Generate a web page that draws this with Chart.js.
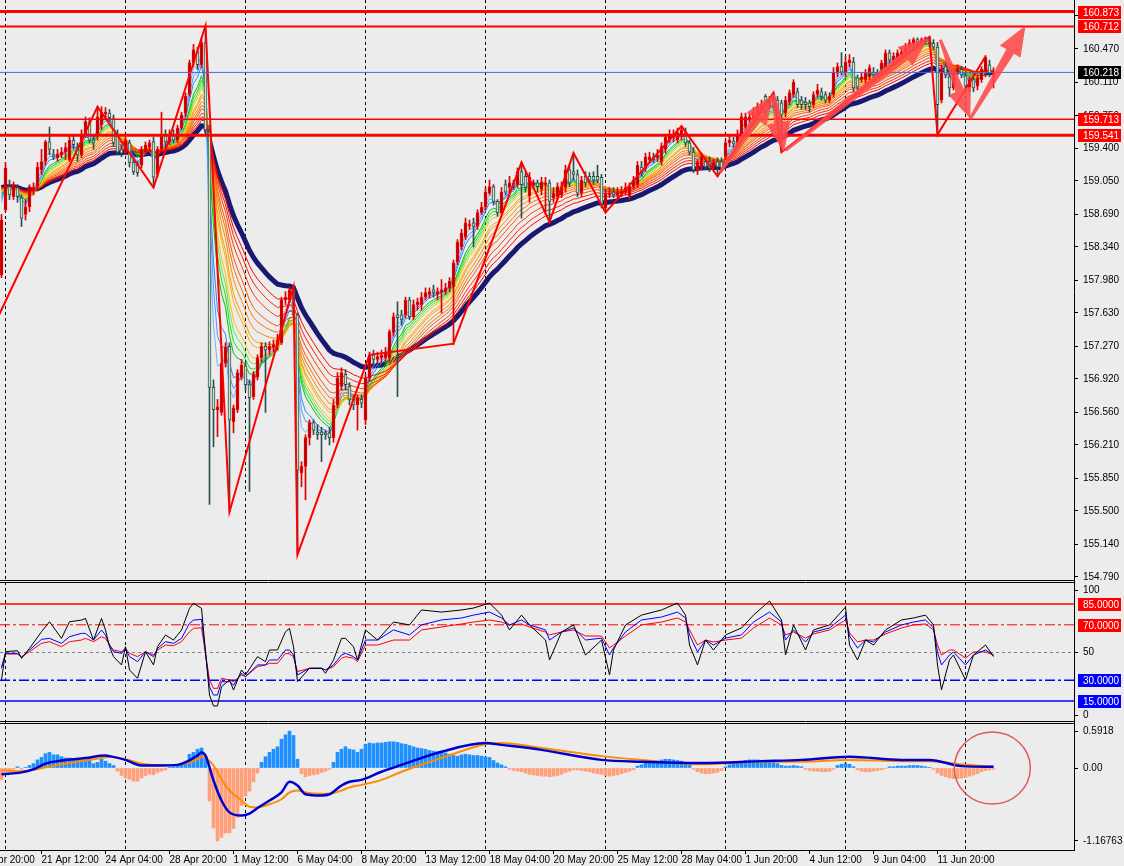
<!DOCTYPE html>
<html>
<head>
<meta charset="utf-8">
<title>H4 chart</title>
<script src="https://cdn.jsdelivr.net/npm/chart.js@4.4.1/dist/chart.umd.min.js"></script>
<style>
  html, body { margin: 0; padding: 0; background: #ececec; overflow: hidden; }
  canvas { display: block; }
</style>
</head>
<body>
<canvas id="chart" width="1124" height="866"></canvas>
<script>
// H4 candles, bar index = position in the array
const openP = [
  158.04,158.74,158.99,158.88,158.98,158.87,158.69,158.77,158.95,158.99,
  159.17,159.26,159.47,159.33,159.30,159.33,159.36,159.28,159.49,159.42,
  159.33,159.55,159.69,159.49,159.55,159.65,159.77,159.78,159.73,159.55,
  159.39,159.36,159.46,159.25,159.22,159.22,159.36,159.41,159.47,159.12,
  159.39,159.55,159.47,159.55,159.49,159.62,159.78,159.98,160.32,160.44,
  160.30,160.54,159.58,156.83,156.59,156.56,157.09,157.27,156.46,156.59,
  156.94,157.06,156.86,156.73,156.94,157.15,157.27,157.23,157.26,157.29,
  157.31,157.77,157.77,157.88,157.61,155.91,155.98,156.29,156.45,156.35,
  156.35,156.34,156.34,156.29,156.64,156.84,156.97,156.84,156.70,156.64,
  156.70,156.48,156.93,157.18,157.13,157.15,157.15,157.15,157.42,157.61,
  157.61,157.61,157.77,157.59,157.72,157.72,157.80,157.83,157.88,157.83,
  157.85,157.86,157.90,157.91,158.18,158.34,158.45,158.57,158.60,158.56,
  158.71,158.77,158.92,158.99,158.83,158.71,159.01,158.98,159.03,159.01,
  159.15,159.10,158.89,159.01,159.03,158.96,159.01,159.03,158.87,158.88,
  158.90,158.98,159.17,159.15,159.12,158.92,159.10,159.10,159.10,159.10,
  159.09,158.76,158.90,158.93,158.90,158.92,158.93,158.89,158.99,159.01,
  159.20,159.19,159.28,159.31,159.30,159.26,159.39,159.49,159.52,159.49,
  159.53,159.57,159.46,159.36,159.17,159.20,159.26,159.26,159.20,159.26,
  159.26,159.31,159.46,159.48,159.46,159.55,159.63,159.71,159.73,159.74,
  159.82,159.96,159.85,159.98,159.92,159.89,159.78,159.90,159.98,160.01,
  159.92,159.90,159.89,159.87,159.98,160.01,159.98,159.92,159.98,160.21,
  160.28,160.21,160.32,160.33,160.16,160.14,160.14,160.17,160.22,160.21,
  160.25,160.27,160.43,160.35,160.38,160.39,160.44,160.49,160.52,160.57,
  160.54,160.55,160.59,160.53,160.49,159.92,160.28,160.17,160.05,160.22,
  160.25,160.18,160.05,160.14,160.07,160.14,160.22,160.30,160.19
];
const highP = [
  158.69,159.25,159.06,159.04,159.01,158.90,158.85,159.01,159.03,159.25,
  159.39,159.49,159.63,159.39,159.39,159.41,159.46,159.53,159.55,159.46,
  159.60,159.74,159.73,159.55,159.85,159.85,159.84,159.82,159.76,159.60,
  159.44,159.55,159.49,159.28,159.26,159.42,159.47,159.49,159.52,159.42,
  159.79,159.60,159.60,159.60,159.65,159.79,160.00,160.35,160.52,160.49,
  160.59,160.72,159.65,156.91,156.70,157.27,157.31,157.31,156.64,157.02,
  157.13,157.10,156.91,157.00,157.18,157.31,157.31,157.32,157.34,157.40,
  157.80,157.86,157.91,157.93,157.63,156.03,156.32,156.48,156.48,156.43,
  156.40,156.37,156.40,156.70,156.99,157.04,157.02,156.88,156.75,156.75,
  156.75,156.97,157.21,157.23,157.21,157.23,157.26,157.45,157.63,157.75,
  157.66,157.80,157.80,157.77,157.79,157.85,157.90,157.90,157.93,157.90,
  157.99,157.95,158.01,158.20,158.42,158.53,158.65,158.63,158.65,158.74,
  158.82,158.98,159.06,159.01,158.85,158.98,159.06,159.10,159.06,159.19,
  159.25,159.14,159.14,159.06,159.06,159.09,159.09,159.06,158.98,159.03,
  159.04,159.22,159.22,159.35,159.17,159.10,159.15,159.14,159.15,159.22,
  159.12,158.96,158.98,158.98,158.98,158.99,159.03,159.03,159.10,159.26,
  159.26,159.35,159.36,159.35,159.39,159.46,159.55,159.60,159.60,159.62,
  159.64,159.62,159.49,159.41,159.28,159.35,159.30,159.31,159.28,159.30,
  159.30,159.49,159.54,159.52,159.60,159.78,159.78,159.78,159.84,159.89,
  159.92,159.98,159.96,160.00,159.96,159.92,159.96,160.03,160.14,160.05,
  159.96,159.95,159.92,160.01,160.09,160.05,160.01,160.00,160.27,160.32,
  160.43,160.39,160.41,160.38,160.19,160.21,160.25,160.30,160.27,160.25,
  160.35,160.46,160.46,160.43,160.46,160.48,160.53,160.57,160.59,160.59,
  160.59,160.60,160.60,160.57,160.54,160.30,160.32,160.21,160.26,160.30,
  160.28,160.22,160.17,160.17,160.19,160.28,160.40,160.35,160.27
];
const lowP = [
  158.01,158.72,158.85,158.85,158.82,158.56,158.63,158.72,158.90,158.96,
  159.12,159.22,159.33,159.28,159.26,159.30,159.28,159.26,159.39,159.26,
  159.30,159.52,159.46,159.39,159.49,159.60,159.73,159.69,159.42,159.33,
  159.31,159.33,159.20,159.12,159.10,159.19,159.33,159.36,158.98,159.09,
  159.35,159.39,159.44,159.46,159.46,159.60,159.74,159.96,160.28,160.25,
  160.27,159.55,155.57,156.19,156.30,156.53,157.05,155.49,156.34,156.56,
  156.91,156.80,155.71,156.70,156.91,157.10,156.56,157.18,157.21,157.23,
  157.29,157.72,157.74,157.58,155.03,155.76,155.62,156.21,156.32,156.27,
  156.03,156.27,156.21,156.24,156.61,156.80,156.80,156.64,156.59,156.37,
  156.61,156.43,156.89,157.07,157.09,157.10,157.10,157.10,157.38,156.73,
  157.50,157.58,157.56,157.56,157.66,157.66,157.77,157.79,157.80,157.77,
  157.63,157.83,157.86,157.29,158.15,158.31,158.42,158.53,158.34,158.53,
  158.69,158.74,158.90,158.79,158.67,158.69,158.90,158.93,158.96,158.98,
  158.65,158.93,158.82,158.96,158.93,158.90,158.69,158.61,158.82,158.85,
  158.87,158.93,158.99,159.06,158.88,158.88,158.99,159.03,159.01,159.03,
  158.76,158.71,158.87,158.87,158.87,158.88,158.90,158.85,158.96,158.98,
  159.10,159.15,159.25,159.25,159.26,159.22,159.35,159.46,159.47,159.46,
  159.49,159.42,159.33,159.14,159.12,159.17,159.17,159.15,159.17,159.10,
  159.15,159.28,159.42,159.41,159.42,159.52,159.60,159.68,159.69,159.71,
  159.78,159.76,159.82,159.82,159.65,159.36,159.74,159.87,159.95,159.84,
  159.82,159.82,159.79,159.84,159.95,159.92,159.89,159.89,159.95,160.17,
  160.19,160.17,160.28,160.01,160.03,160.11,160.09,160.14,160.16,160.16,
  160.21,160.25,160.32,160.32,160.33,160.35,160.41,160.46,160.48,160.49,
  160.52,160.52,160.49,160.46,159.55,159.89,160.16,159.96,160.03,160.19,
  160.16,160.01,160.01,160.01,160.03,160.11,160.17,160.17,160.05
];
const closeP = [
  158.63,159.19,158.90,159.01,158.88,158.65,158.77,158.99,158.98,159.20,
  159.26,159.47,159.39,159.31,159.34,159.36,159.41,159.49,159.44,159.33,
  159.55,159.69,159.49,159.46,159.74,159.79,159.79,159.73,159.46,159.36,
  159.35,159.49,159.25,159.15,159.14,159.39,159.44,159.46,159.09,159.39,
  159.55,159.47,159.55,159.49,159.62,159.76,159.96,160.32,160.46,160.30,
  160.54,159.60,156.83,156.59,156.62,157.09,157.26,156.48,156.61,156.99,
  157.07,156.86,156.72,156.97,157.15,157.27,157.23,157.27,157.29,157.34,
  157.77,157.80,157.88,157.61,155.94,155.98,156.29,156.45,156.37,156.32,
  156.32,156.32,156.29,156.64,156.93,156.99,156.86,156.70,156.64,156.72,
  156.66,156.93,157.18,157.13,157.16,157.18,157.21,157.43,157.59,157.58,
  157.56,157.77,157.59,157.72,157.75,157.80,157.85,157.86,157.85,157.86,
  157.88,157.90,157.97,158.17,158.39,158.49,158.60,158.58,158.56,158.71,
  158.77,158.93,158.99,158.83,158.71,158.93,158.93,159.03,158.99,159.15,
  159.01,158.98,159.09,159.03,158.99,159.04,159.03,158.83,158.92,158.99,
  158.99,159.17,159.03,159.12,158.92,159.06,159.03,159.06,159.06,159.06,
  158.79,158.92,158.92,158.90,158.93,158.93,158.98,158.99,159.06,159.22,
  159.14,159.31,159.31,159.28,159.33,159.42,159.52,159.55,159.55,159.57,
  159.60,159.46,159.36,159.17,159.25,159.31,159.20,159.19,159.25,159.20,
  159.19,159.46,159.49,159.45,159.55,159.74,159.74,159.74,159.79,159.85,
  159.87,159.79,159.92,159.85,159.71,159.76,159.92,160.00,160.11,159.87,
  159.87,159.87,159.85,159.98,160.03,159.96,159.92,159.96,160.22,160.28,
  160.22,160.33,160.35,160.05,160.06,160.17,160.21,160.27,160.19,160.19,
  160.32,160.43,160.35,160.39,160.43,160.44,160.49,160.54,160.57,160.54,
  160.57,160.59,160.53,160.49,159.87,160.25,160.19,160.05,160.22,160.26,
  160.19,160.07,160.14,160.05,160.16,160.25,160.38,160.21,160.22
];

// time axis
const labelBars = [-6,10,26,42,58,74,90,106,122,138,154,170,186,202,218,234];
const labelText = ['18 Apr 20:00','21 Apr 12:00','24 Apr 04:00','28 Apr 20:00','1 May 12:00','6 May 04:00',
  '8 May 20:00','13 May 12:00','18 May 04:00','20 May 20:00','25 May 12:00','28 May 04:00',
  '1 Jun 20:00','4 Jun 12:00','9 Jun 04:00','11 Jun 20:00'];
const gridBars = [1,31,61,91,121,151,181,211,241];

// price axis and horizontal levels
const priceTicks = [160.830,160.470,160.110,159.750,159.400,159.050,158.690,158.340,157.980,157.630,
  157.270,156.920,156.560,156.210,155.850,155.500,155.140,154.790];
const levelPrices = [160.873,160.712,160.218,159.713,159.541];
const levelColors = ['#ff0000','#ff0000','#4169e1','#ff0000','#ff0000'];
const levelWidths = [3,2,1,1.5,3];
const levelBoxColors = ['#ff0000','#ff0000','#000000','#ff0000','#ff0000'];

// zigzag
const zzBars = [-5,24,38,51,57,73,74,92,113,130,137,143,151,170,179,193,195,232,234,246];
const zzPrices = [157.21,159.85,158.98,160.72,155.49,157.91,155.03,157.18,157.30,159.25,158.61,159.35,
  158.71,159.64,159.10,160.00,159.36,160.60,159.55,160.39];

// hand drawn arrows
const arrowFromBar = [179.6,193,196,234.7,242.2];
const arrowFromPrice = [159.14,159.98,159.38,160.57,159.72];
const arrowToBar = [193,195.6,231.8,242.2,256];
const arrowToPrice = [159.98,159.36,160.59,159.72,160.72];

// moving average ribbon
const emaStart = 159.00;
const ribbonPeriods = [3,4,5,7,8,9,10,12,13,15,17,19,22,25,28];
const ribbonColors = ['#74b4ff','#4f9cff','#2e86ff','#00c400','#19e019','#55ee55','#ffc400','#ffae00',
  '#ff9c00','#ff8800','#ff7000','#ff5500','#ff3c00','#ff2000','#ff0000'];
const navyPeriod = 34;

// oscillator panel
const rsiBars = [0,1,4,5,7,10,12,15,17,20,21,23,25,26,27,28,30,31,32,34,36,38,39,41,43,45,47,48,50,51,
  52,53,54,55,57,58,60,61,64,66,67,69,71,72,73,74,77,80,81,83,85,86,88,89,91,94,98,102,105,110,
  115,118,122,125,127,130,132,136,137,140,143,146,150,152,153,156,160,165,169,171,172,174,176,178,181,
  185,188,192,195,196,198,201,203,207,211,212,214,216,218,221,225,228,231,233,234,235,237,238,241,243,246,248];
const rsiBlack = [30.2,50.6,51.3,45.8,53.0,65.0,72.2,60.2,72.2,73.4,74.6,59.0,74.6,66.2,54.2,47.0,41.0,54.2,37.4,31.4,
  50.6,41.0,54.2,62.6,59.0,66.2,81.9,85.5,81.9,50.6,19.3,11.4,11.4,25.3,30.2,22.9,37.4,33.8,47.0,43.4,
  51.8,51.8,65.0,67.4,54.2,28.9,38.6,38.6,35.0,44.6,60.2,60.2,54.2,44.6,66.3,59.0,72.0,69.9,80.7,79.2,
  80.7,82.1,85.7,77.0,66.3,77.0,69.9,59.0,44.6,64.8,69.9,48.2,59.0,33.8,51.8,69.9,77.0,80.7,85.7,77.0,
  55.4,41.0,59.0,51.8,62.7,67.7,77.0,87.2,73.5,48.2,69.9,51.8,66.3,69.9,82.8,55.4,44.6,59.0,55.4,66.3,
  73.5,74.9,77.0,69.9,41.0,23.0,44.6,48.2,30.2,48.2,55.4,47.0];
const rsiBlue = [38.6,49.4,49.4,46.3,51.8,59.5,60.2,56.6,61.4,63.8,63.8,59.0,66.2,62.6,55.4,50.6,49.4,53.0,47.0,43.4,
  50.6,47.0,53.0,57.8,56.6,60.2,71.0,73.4,73.9,49.4,25.3,19.3,19.3,28.9,28.9,26.5,35.0,32.6,41.0,41.0,
  44.6,44.6,51.8,51.8,48.2,33.8,38.6,38.6,37.4,41.0,48.2,49.4,47.0,44.6,59.0,59.0,66.3,62.7,69.9,73.5,
  74.9,77.0,79.2,74.9,69.9,73.5,69.9,66.3,59.0,64.8,67.7,59.0,60.4,48.2,53.3,64.8,73.5,75.6,79.2,74.9,
  62.7,50.4,59.0,55.4,60.4,62.7,72.0,79.2,72.0,59.0,66.3,57.6,64.8,67.7,77.0,61.9,53.3,59.0,57.6,64.8,
  69.9,72.0,73.5,67.7,50.4,41.0,48.2,50.4,41.0,48.2,51.8,48.2];
const rsiRed = [39.8,48.9,48.9,47.0,50.6,56.6,57.8,54.2,57.8,59.0,60.2,57.8,61.4,60.2,55.4,51.8,50.6,53.0,49.4,47.0,
  50.6,48.2,51.8,55.4,54.9,57.8,65.0,67.4,67.9,49.4,30.2,24.1,24.1,31.4,30.2,28.9,33.8,32.6,39.8,41.0,
  42.2,42.2,49.4,48.9,47.0,36.2,38.6,38.6,37.4,39.8,45.8,47.0,45.8,43.4,55.4,55.4,59.0,59.0,66.3,68.4,
  70.6,72.0,73.5,72.0,69.9,70.6,68.4,64.8,62.7,64.8,66.3,61.9,61.9,53.3,55.4,61.9,69.9,72.0,74.9,72.0,
  66.3,55.4,59.0,57.6,59.0,60.4,67.7,74.9,69.9,62.7,64.8,60.4,63.4,66.3,73.5,64.1,57.6,59.0,59.0,63.4,
  67.7,69.9,70.6,66.3,55.4,48.2,51.8,51.8,46.0,50.4,50.4,48.2];
const rsiLevels = [85,70,50,30,15];
const rsiLevelColors = ['#ff0000','#ff0000','#808080','#0000ff','#0000ff'];
const rsiLevelDash = [[],[10,3,3,3],[3,3],[10,3,3,3],[]];
const rsiLevelWidths = [1.5,1,1,1.5,1.5];
const rsiBoxValues = [85,70,30,15];
const rsiBoxColors = ['#ff0000','#ff0000','#0000ff','#0000ff'];
const rsiTickVals = [95,50,4.5];
const rsiTickText = ['100','50','0'];

// MACD panel
const macdHist = [
  -0.19,-0.03,-0.03,-0.02,0.02,-0.02,0.01,0.04,0.07,0.13,
  0.17,0.23,0.25,0.21,0.21,0.18,0.16,0.16,0.13,0.13,
  0.12,0.13,0.16,0.07,0.09,0.14,0.11,0.07,0.04,-0.05,
  -0.12,-0.16,-0.18,-0.21,-0.21,-0.16,-0.12,-0.10,-0.11,-0.07,
  -0.05,-0.03,0.01,0.02,0.04,0.07,0.11,0.22,0.25,0.30,
  0.32,0.18,-0.53,-0.96,-1.17,-1.11,-1.04,-1.04,-0.97,-0.79,
  -0.60,-0.45,-0.37,-0.22,-0.08,0.09,0.18,0.25,0.30,0.34,
  0.46,0.53,0.59,0.52,0.14,-0.09,-0.14,-0.12,-0.11,-0.10,
  -0.07,-0.05,-0.02,0.09,0.25,0.30,0.34,0.30,0.29,0.25,
  0.30,0.38,0.40,0.39,0.40,0.40,0.41,0.42,0.42,0.41,
  0.39,0.38,0.36,0.34,0.32,0.31,0.30,0.28,0.27,0.26,
  0.25,0.24,0.22,0.20,0.19,0.21,0.22,0.21,0.20,0.20,
  0.19,0.18,0.17,0.12,0.08,0.05,0.02,-0.02,-0.04,-0.05,
  -0.06,-0.08,-0.10,-0.11,-0.12,-0.13,-0.13,-0.14,-0.13,-0.12,
  -0.10,-0.07,-0.05,-0.03,-0.03,-0.04,-0.05,-0.06,-0.08,-0.09,
  -0.10,-0.12,-0.13,-0.12,-0.11,-0.09,-0.07,-0.05,-0.03,0.03,
  0.05,0.08,0.09,0.10,0.11,0.13,0.14,0.14,0.13,0.12,
  0.11,0.09,0.05,-0.02,-0.06,-0.08,-0.09,-0.09,-0.08,-0.07,
  -0.04,0.02,0.05,0.07,0.09,0.11,0.12,0.13,0.13,0.13,
  0.12,0.11,0.10,0.09,0.07,0.04,0.03,0.03,0.04,0.03,
  0.02,-0.02,-0.04,-0.05,-0.05,-0.06,-0.06,-0.05,-0.02,0.04,
  0.06,0.07,0.06,0.02,-0.03,-0.05,-0.06,-0.06,-0.05,-0.04,
  -0.03,-0.01,0.02,0.02,0.03,0.03,0.03,0.04,0.04,0.04,
  0.03,0.02,0.01,-0.02,-0.08,-0.12,-0.14,-0.16,-0.17,-0.17,
  -0.16,-0.15,-0.13,-0.11,-0.09,-0.06,-0.04,-0.03,-0.02
];
const macdBars = [0,5,8,11,15,21,26,27,31,35,40,44,46,49,50,51,53,55,57,60,62,64,67,70,72,74,76,80,82,85,87,90,
  95,100,110,121,125,135,150,160,175,190,200,212,225,232,240,248];
const macdMain = [-0.10,-0.07,-0.02,0.07,0.12,0.16,0.20,0.19,0.13,0.04,0.04,0.05,0.09,0.20,0.25,0.20,-0.20,-0.52,
  -0.71,-0.76,-0.73,-0.64,-0.52,-0.39,-0.22,-0.28,-0.42,-0.44,-0.42,-0.28,-0.22,-0.19,-0.06,0.05,0.26,0.40,
  0.37,0.29,0.13,0.10,0.08,0.11,0.13,0.18,0.13,0.13,0.03,0.02];
const macdSignal = [-0.04,-0.05,-0.03,0.01,0.06,0.12,0.17,0.18,0.14,0.07,0.05,0.05,0.07,0.14,0.18,0.16,0.04,-0.18,
  -0.36,-0.52,-0.62,-0.63,-0.58,-0.50,-0.39,-0.36,-0.39,-0.41,-0.41,-0.36,-0.31,-0.27,-0.19,-0.06,0.16,0.38,
  0.40,0.32,0.19,0.13,0.06,0.10,0.10,0.13,0.11,0.11,0.06,0.02];
const macdTickVals = [0.5918,0,-1.16763];
const macdTickText = ['0.5918','0.00','-1.16763'];
const circleBar = 247.7, circleValue = 0;

// visible ranges (4 px per bar)
const xMin = -0.375, xMax = 268.125;
const priceMin = 154.736, priceMax = 160.997;
const rsiMin = -0.9, rsiMax = 100.9;
const macdMin = -1.312, macdMax = 0.72;

const FONT = { family: "'Liberation Sans', Arial, sans-serif", size: 10 };
Chart.defaults.font.family = FONT.family;
Chart.defaults.font.size = 10;
Chart.defaults.color = '#000';

const isUp = closeP.map((c, i) => c >= openP[i]);

function ema(period) {
  const k = 2 / (period + 1);
  let v = emaStart;
  return closeP.map((c, i) => { v += k * (c - v); return { x: i, y: v }; });
}

function hline(v) {
  return [{ x: xMin, y: v }, { x: xMax, y: v }];
}

const datasets = [];

// slowest ribbon lines first so the fast ones sit on top
ribbonPeriods.slice().reverse().forEach(p => {
  const n = ribbonPeriods.indexOf(p);
  datasets.push({ type: 'line', data: ema(p), borderColor: ribbonColors[n], borderWidth: 1,
    pointRadius: 0, yAxisID: 'y', order: 30 });
});
datasets.push({ type: 'line', data: ema(navyPeriod), borderColor: '#191970', borderWidth: 5,
  pointRadius: 0, yAxisID: 'y', order: 31 });

// wicks then bodies
datasets.push({ type: 'bar', data: closeP.map((c, i) => ({ x: i, y: [lowP[i], highP[i]] })),
  backgroundColor: isUp.map(u => u ? '#e00000' : '#2f4f4f'), barThickness: 1, grouped: false,
  yAxisID: 'y', order: 28 });
datasets.push({ type: 'bar', data: closeP.map((c, i) => ({ x: i, y: [openP[i], c] })),
  backgroundColor: isUp.map(u => u ? '#b00000' : '#c6e4c6'),
  borderColor: isUp.map(u => u ? '#ff0000' : '#2f4f4f'),
  borderWidth: 1, borderSkipped: false, barThickness: 3, grouped: false, yAxisID: 'y', order: 27 });

datasets.push({ type: 'line', data: zzBars.map((b, i) => ({ x: b, y: zzPrices[i] })),
  borderColor: '#ff0000', borderWidth: 2, pointRadius: 0, yAxisID: 'y', order: 6 });

levelPrices.forEach((p, n) => {
  datasets.push({ type: 'line', data: hline(p), borderColor: levelColors[n], borderWidth: levelWidths[n],
    pointRadius: 0, yAxisID: 'y', order: 5 });
});

// oscillator panel
rsiLevels.forEach((v, n) => {
  datasets.push({ type: 'line', data: hline(v), borderColor: rsiLevelColors[n], borderWidth: rsiLevelWidths[n],
    borderDash: rsiLevelDash[n], pointRadius: 0, yAxisID: 'yR', order: 12 });
});
[[rsiBlack, '#000000'], [rsiBlue, '#0000ff'], [rsiRed, '#ff0000']].forEach(([vals, col]) => {
  datasets.push({ type: 'line', data: rsiBars.map((b, i) => ({ x: b, y: vals[i] })),
    borderColor: col, borderWidth: 1, pointRadius: 0, yAxisID: 'yR', order: 10 });
});

// MACD panel
datasets.push({ type: 'bar', data: macdHist.map((v, i) => ({ x: i, y: v })),
  backgroundColor: macdHist.map(v => v >= 0 ? '#1e90ff' : '#ffa07a'), barThickness: 3, grouped: false,
  yAxisID: 'yM', order: 14 });
datasets.push({ type: 'line', data: macdBars.map((b, i) => ({ x: b, y: macdSignal[i] })),
  borderColor: '#ff8c00', borderWidth: 2, pointRadius: 0, cubicInterpolationMode: 'monotone',
  yAxisID: 'yM', order: 9 });
datasets.push({ type: 'line', data: macdBars.map((b, i) => ({ x: b, y: macdMain[i] })),
  borderColor: '#0000cd', borderWidth: 2.5, pointRadius: 0, cubicInterpolationMode: 'monotone',
  yAxisID: 'yM', order: 8 });

function drawArrow(ctx, x1, y1, x2, y2) {
  const len = Math.hypot(x2 - x1, y2 - y1);
  const head = Math.min(30, len * 0.55), hw = 12;
  ctx.save();
  ctx.translate(x1, y1);
  ctx.rotate(Math.atan2(y2 - y1, x2 - x1));
  ctx.fillStyle = 'rgba(255,72,72,0.88)';
  ctx.beginPath();
  ctx.moveTo(0, -1.5);
  ctx.lineTo(len - head, -4.5);
  ctx.lineTo(len - head, -hw);
  ctx.lineTo(len, 0);
  ctx.lineTo(len - head, hw);
  ctx.lineTo(len - head, 4.5);
  ctx.lineTo(0, 1.5);
  ctx.closePath();
  ctx.fill();
  ctx.restore();
}

function drawBox(ctx, scale, value, text, bg) {
  const py = Math.round(scale.getPixelForValue(value));
  ctx.fillStyle = bg;
  ctx.fillRect(scale.left + 4, py - 6, 43, 13);
  ctx.fillStyle = '#ffffff';
  ctx.textAlign = 'left';
  ctx.textBaseline = 'middle';
  ctx.fillText(text, scale.left + 9, py + 1);
}

const mt4Plugin = {
  id: 'mt4Plugin',
  beforeDraw(chart) {
    const { ctx, width, height } = chart;
    ctx.save();
    ctx.fillStyle = '#ececec';
    ctx.fillRect(0, 0, width, height);
    ctx.restore();
  },
  afterDatasetsDraw(chart) {
    const { ctx, chartArea, scales } = chart;
    const { x, y, yM } = scales;
    ctx.save();
    ctx.beginPath();
    ctx.rect(chartArea.left, y.top, chartArea.width, y.bottom - y.top);
    ctx.clip();
    arrowFromBar.forEach((b, n) => {
      drawArrow(ctx, x.getPixelForValue(b), y.getPixelForValue(arrowFromPrice[n]),
        x.getPixelForValue(arrowToBar[n]), y.getPixelForValue(arrowToPrice[n]));
    });
    ctx.restore();

    ctx.save();
    ctx.strokeStyle = '#e05a5a';
    ctx.lineWidth = 1.5;
    ctx.beginPath();
    ctx.ellipse(x.getPixelForValue(circleBar), yM.getPixelForValue(circleValue), 38, 36, 0, 0, Math.PI * 2);
    ctx.stroke();
    ctx.restore();
  },
  afterDraw(chart) {
    const { ctx, chartArea, scales } = chart;
    const { y, yR } = scales;
    ctx.save();
    ctx.strokeStyle = '#000';
    ctx.lineWidth = 1;
    [y.bottom - 1.5, y.bottom + 0.5, yR.bottom - 1.5, yR.bottom + 0.5].forEach(py => {
      ctx.beginPath();
      ctx.moveTo(chartArea.left, py);
      ctx.lineTo(chartArea.right, py);
      ctx.stroke();
    });
    ctx.font = '10px ' + FONT.family;
    levelPrices.forEach((p, n) => drawBox(ctx, y, p, p.toFixed(3), levelBoxColors[n]));
    rsiBoxValues.forEach((v, n) => drawBox(ctx, yR, v, v.toFixed(4), rsiBoxColors[n]));
    ctx.restore();
  }
};

function yAxis(stackWeight, min, max, tickVals, tickText) {
  return {
    type: 'linear', position: 'right', stack: 'panels', stackWeight, min, max, offset: false,
    afterFit: s => { s.width = 50; s.paddingTop = 0; s.paddingBottom = 0; },
    afterBuildTicks: s => { s.ticks = tickVals.map(v => ({ value: v })); },
    ticks: {
      autoSkip: false, padding: 5, color: '#000', font: FONT,
      callback: v => tickText(v)
    },
    grid: { drawOnChartArea: false, drawTicks: true, tickLength: 4, tickColor: '#000' },
    border: { display: true, color: '#000', width: 1 }
  };
}

new Chart(document.getElementById('chart'), {
  type: 'bar',
  data: { datasets },
  options: {
    responsive: false,
    animation: false,
    devicePixelRatio: 1,
    layout: { padding: 0 },
    events: [],
    plugins: { legend: { display: false }, tooltip: { enabled: false } },
    scales: {
      x: {
        type: 'linear', position: 'bottom', min: xMin, max: xMax, offset: false,
        afterFit: s => { s.height = 16; s.paddingLeft = 0; s.paddingRight = 0; },
        afterBuildTicks: s => {
          s.ticks = labelBars.concat(gridBars).sort((a, b) => a - b).map(v => ({ value: v }));
        },
        ticks: {
          autoSkip: false, maxRotation: 0, minRotation: 0, align: 'start', padding: 0,
          color: '#000', font: FONT,
          callback: v => { const k = labelBars.indexOf(v); return k >= 0 ? labelText[k] : ''; }
        },
        grid: {
          offset: false, drawOnChartArea: true, drawTicks: true, tickLength: 4, lineWidth: 1,
          color: c => (c.tick && gridBars.includes(c.tick.value)) ? '#000' : 'rgba(0,0,0,0)',
          tickColor: c => (c.tick && labelBars.includes(c.tick.value)) ? '#000' : 'rgba(0,0,0,0)'
        },
        border: { display: true, color: '#000', width: 1, dash: [3, 3] }
      },
      y: yAxis(582, priceMin, priceMax, priceTicks, v => v.toFixed(3)),
      yR: yAxis(141, rsiMin, rsiMax, rsiTickVals, v => rsiTickText[rsiTickVals.indexOf(v)]),
      yM: yAxis(127, macdMin, macdMax, macdTickVals, v => macdTickText[macdTickVals.indexOf(v)])
    }
  },
  plugins: [mt4Plugin]
});
</script>
</body>
</html>
